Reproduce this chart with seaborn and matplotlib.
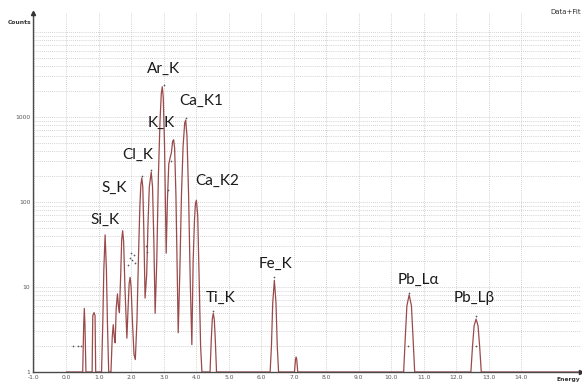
import matplotlib
matplotlib.use("Agg")
import matplotlib.pyplot as plt
import seaborn as sns
import pandas as pd
from matplotlib.ticker import FixedLocator, NullFormatter

# ---------------- data ----------------
energy = [0.00, 0.50, 0.53, 0.55, 0.57, 0.60,
          0.79, 0.81, 0.85, 0.88, 0.90,
          1.08, 1.12, 1.15, 1.19, 1.23, 1.26, 1.30,
          1.37, 1.41, 1.44, 1.47, 1.50,
          1.53, 1.57, 1.60, 1.63,
          1.67, 1.70, 1.73, 1.76, 1.80, 1.86,
          1.90, 1.93, 1.96, 1.99, 2.03, 2.08, 2.12,
          2.17, 2.22, 2.26, 2.29, 2.32, 2.35, 2.38, 2.42,
          2.47, 2.51, 2.55, 2.61, 2.65, 2.69, 2.73,
          2.78, 2.83, 2.88, 2.92, 2.95, 2.98, 3.02, 3.07,
          3.11, 3.15, 3.19, 3.23, 3.27, 3.30, 3.33, 3.37, 3.41, 3.44,
          3.49, 3.54, 3.59, 3.64, 3.67, 3.71, 3.76, 3.81, 3.86,
          3.90, 3.94, 3.97, 4.00, 4.04, 4.08, 4.13, 4.17,
          4.42, 4.46, 4.49, 4.52, 4.55, 4.58, 4.62,
          6.27, 6.31, 6.35, 6.40, 6.45, 6.49, 6.53,
          7.02, 7.05, 7.07, 7.09, 7.12,
          10.38, 10.43, 10.48, 10.55, 10.62, 10.67, 10.72,
          12.45, 12.50, 12.55, 12.61, 12.67, 12.72, 12.77,
          15.84]
counts = [1, 1, 3.5, 5.6, 3.5, 1,
          1, 4.6, 5.0, 4.6, 1,
          1, 4, 16, 41, 16, 4, 1,
          1, 2.6, 3.6, 2.6, 2.2,
          5.5, 8.3, 6, 5,
          14, 36, 46, 34, 10, 2.5,
          6, 11, 13, 10, 4, 1.6, 1.4,
          4, 25, 90, 160, 192, 150, 50, 7.4,
          14, 55, 150, 225, 150, 35, 4.9,
          20, 200, 900, 1900, 2270, 1700, 450, 25,
          110, 280, 330, 380, 520, 540, 430, 120, 15, 2.9,
          15, 120, 450, 850, 920, 600, 120, 12, 2.1,
          20, 60, 95, 105, 70, 15, 2, 1,
          1, 2.5, 4.2, 4.9, 4.2, 2.5, 1,
          1, 2, 6.5, 12, 6.5, 2, 1,
          1, 1.4, 1.5, 1.4, 1,
          1, 2.5, 6, 8.1, 6, 2.5, 1,
          1, 2, 3.5, 4.2, 3.5, 2, 1,
          1]

data_energy = [1.90, 1.95, 1.99, 2.03, 2.07, 2.11, 2.44, 2.49, 3.13, 3.21,
               0.20, 0.35, 0.45, 6.40, 10.55, 12.61, 4.52, 2.32, 2.61,
               10.50, 12.60, 3.00, 3.67]
data_counts = [18, 22, 25, 21, 24, 19, 30, 26, 140, 300,
               2, 2, 2, 13, 8.6, 4.5, 5.2, 205, 240,
               2, 2, 2400, 980]

peak_labels = ["Ar_K", "Ca_K1", "K_K", "Cl_K", "S_K", "Ca_K2", "Si_K",
               "Ti_K", "Fe_K", "Pb_Lα", "Pb_Lβ"]
label_px = [(164, 69), (201, 101), (161, 123), (138, 155), (114, 188),
            (217, 181), (105, 220), (221, 298), (276, 264), (418, 280),
            (474, 298)]

xticks = list(range(-1, 15))
xtick_labels = ["%.1f" % v for v in xticks]
yticks = [1, 10, 100, 1000]
ytick_labels = ["1", "10", "100", "1000"]
yminor = [m * 10 ** k for k in range(4) for m in range(2, 10)] + [10000]

# ---------------- figure ----------------
sns.set_style("white")
plt.rcParams["font.family"] = ["DejaVu Sans"]

W, H = 582, 383
fig = plt.figure(figsize=(W / 100, H / 100), dpi=100)
ax = fig.add_axes([33 / W, 11 / H, (581 - 33) / W, (372 - 13) / H])

spec = pd.DataFrame({"Energy": energy, "Counts": counts})
pts = pd.DataFrame({"Energy": data_energy, "Counts": data_counts})

sns.lineplot(data=spec, x="Energy", y="Counts", ax=ax, color="#9a4a4a",
             linewidth=0.9, estimator=None, sort=False, zorder=3)
sns.scatterplot(data=pts, x="Energy", y="Counts", ax=ax, color="#555555",
                s=1.5, linewidth=0, zorder=4)

ax.set_yscale("log")
ax.set_xlim(-1.03, 15.84)
ax.set_ylim(1, 10 ** 4.224)

ax.xaxis.set_major_locator(FixedLocator(xticks))
ax.set_xticklabels(xtick_labels)
ax.yaxis.set_major_locator(FixedLocator(yticks))
ax.set_yticklabels(ytick_labels)
ax.yaxis.set_minor_locator(FixedLocator(yminor))
ax.yaxis.set_minor_formatter(NullFormatter())

ax.grid(which="major", axis="both", color="#c4c4c4", linestyle=(0, (1, 1.5)),
        linewidth=0.6)
ax.grid(which="minor", axis="y", color="#c4c4c4", linestyle=(0, (1, 1.5)),
        linewidth=0.6)
ax.tick_params(which="both", length=0, labelsize=4.3, labelcolor="#555555")
ax.tick_params(axis="x", pad=2.5)
ax.tick_params(axis="y", pad=2)
ax.set_xlabel("")
ax.set_ylabel("")

for s in ["top", "right"]:
    ax.spines[s].set_visible(False)
for s in ["left", "bottom"]:
    ax.spines[s].set_color("#4a4a4a")
    ax.spines[s].set_linewidth(1.0)
    ax.spines[s].set_zorder(5)

# axis arrowheads
ax.plot([0], [1], marker="^", markersize=3, color="#333333",
        transform=ax.transAxes, clip_on=False, zorder=6)
ax.plot([1], [0], marker=">", markersize=3, color="#333333",
        transform=ax.transAxes, clip_on=False, zorder=6)

# peak labels
for lab, (px, py) in zip(peak_labels, label_px):
    fig.text(px / W, 1 - py / H, lab, ha="center", va="center",
             fontsize=11, color="#1a1a1a", family=["Lato", "DejaVu Sans"])

fig.text(20 / W, 1 - 22 / H, "Counts", ha="center", va="center",
         fontsize=4.3, color="#333333", fontweight="bold")
fig.text(550 / W, 1 - 12.5 / H, "Data+Fit", ha="left", va="center",
         fontsize=5, color="#333333")
fig.text(580 / W, 1 - 379 / H, "Energy", ha="right", va="center",
         fontsize=4.3, color="#333333", fontweight="bold")

fig.savefig("out.png", dpi=100)
